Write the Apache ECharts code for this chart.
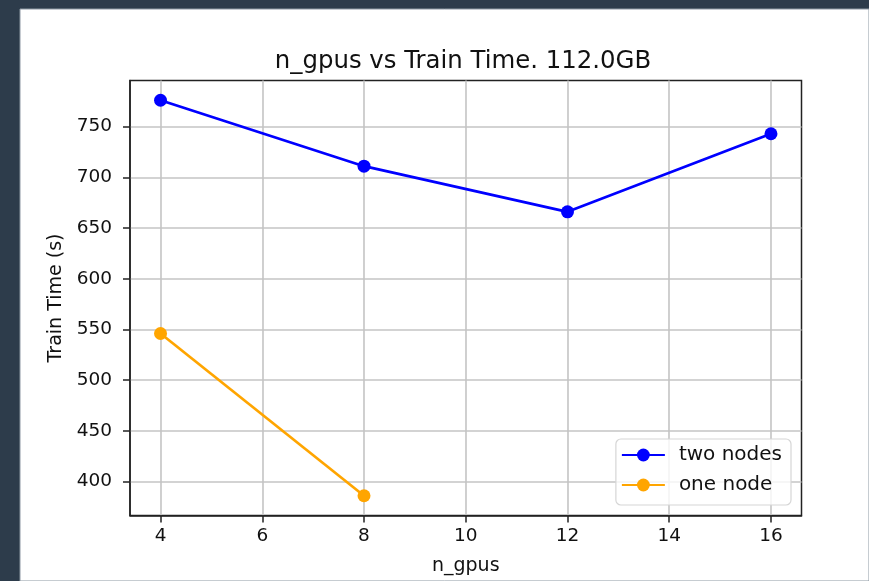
<!DOCTYPE html>
<html>
<head>
<meta charset="utf-8">
<script src="https://cdn.jsdelivr.net/npm/echarts@6/dist/echarts.min.js"></script>
<style>
  html, body { margin: 0; padding: 0; background: #2d3c4b; }
  #chart { width: 869px; height: 581px; }
</style>
</head>
<body>
<div id="chart"></div>
<script>
// GPU count on the x axis, training time in seconds on the y axis
const nGpusTwoNodes = [4, 8, 12, 16];
const trainTimeTwoNodes = [776, 711, 666, 743];
const nGpusOneNode = [4, 8];
const trainTimeOneNode = [546, 386];
const xTicks = [4, 6, 8, 10, 12, 14, 16];
const yTicks = [400, 450, 500, 550, 600, 650, 700, 750];

const FONT = 'DejaVu Sans';
const pair = (xs, ys) => xs.map((x, i) => [x, ys[i]]);

// axis limits padded by 5% of the data span on each side
const allX = nGpusTwoNodes.concat(nGpusOneNode);
const allY = trainTimeTwoNodes.concat(trainTimeOneNode);
function padded(vals) {
  const lo = Math.min(...vals), hi = Math.max(...vals);
  const m = (hi - lo) * 0.05;
  return [lo - m, hi + m];
}
const [xMin, xMax] = padded(allX);
const [yMin, yMax] = padded(allY);

const chart = echarts.init(document.getElementById('chart'), null, { renderer: 'canvas' });

const SPINE = '#222';
const GRID = '#c4c4c4';
const tickStyle = { show: true, inside: false, length: 7, lineStyle: { color: SPINE, width: 1.5 } };

chart.setOption({
  backgroundColor: '#2d3c4b',
  animation: false,
  graphic: [
    { type: 'rect', shape: { x: 20, y: 9, width: 849, height: 572 },
      style: { fill: '#ffffff', stroke: '#8d98a3', lineWidth: 1 }, z: -100, silent: true }
  ],
  title: {
    text: 'n_gpus vs Train Time. 112.0GB',
    left: 458, top: 45, textAlign: 'center',
    textStyle: { fontFamily: FONT, fontSize: 24.4, fontWeight: 'normal', color: '#111' }
  },
  grid: { left: 130, right: 67.5, top: 80.5, bottom: 65.5, show: true,
          borderColor: SPINE, borderWidth: 1.5, backgroundColor: 'transparent' },
  xAxis: {
    type: 'value', min: xMin, max: xMax,
    name: 'n_gpus', nameLocation: 'middle', nameGap: 41,
    nameTextStyle: { fontFamily: FONT, fontSize: 19, color: '#111' },
    axisLine: { show: true, onZero: false, lineStyle: { color: SPINE, width: 1.5 } },
    axisTick: Object.assign({}, tickStyle, { customValues: xTicks }),
    axisLabel: { customValues: xTicks, margin: 11, fontFamily: FONT, fontSize: 18.5, color: '#111' },
    splitLine: { show: true, lineStyle: { color: GRID, width: 1.6 } }
  },
  yAxis: {
    type: 'value', min: yMin, max: yMax,
    name: 'Train Time (s)', nameLocation: 'middle', nameGap: 64,
    nameTextStyle: { fontFamily: FONT, fontSize: 19, color: '#111' },
    axisLine: { show: true, onZero: false, lineStyle: { color: SPINE, width: 1.5 } },
    axisTick: Object.assign({}, tickStyle, { customValues: yTicks }),
    axisLabel: { customValues: yTicks, margin: 18, fontFamily: FONT, fontSize: 18.5, color: '#111' },
    splitLine: { show: true, lineStyle: { color: GRID, width: 1.6 } }
  },
  legend: {
    right: 78, bottom: 76,
    orient: 'vertical',
    backgroundColor: 'rgba(255,255,255,0.8)',
    borderColor: '#d6d6d6', borderWidth: 1.2, borderRadius: 5,
    padding: [6, 9, 10, 5],
    itemWidth: 43, itemHeight: 16, itemGap: 10,
    textStyle: { fontFamily: FONT, fontSize: 20, color: '#111', padding: [0, 0, 0, 9] },
    data: ['two nodes', 'one node']
  },
  series: [
    {
      name: 'two nodes', type: 'line',
      data: pair(nGpusTwoNodes, trainTimeTwoNodes),
      symbol: 'circle', symbolSize: 13,
      lineStyle: { color: '#0000ff', width: 2.7 },
      itemStyle: { color: '#0000ff' },
      z: 5
    },
    {
      name: 'one node', type: 'line',
      data: pair(nGpusOneNode, trainTimeOneNode),
      symbol: 'circle', symbolSize: 13,
      lineStyle: { color: '#ffa500', width: 2.7 },
      itemStyle: { color: '#ffa500' },
      z: 5
    }
  ]
});
</script>
</body>
</html>
